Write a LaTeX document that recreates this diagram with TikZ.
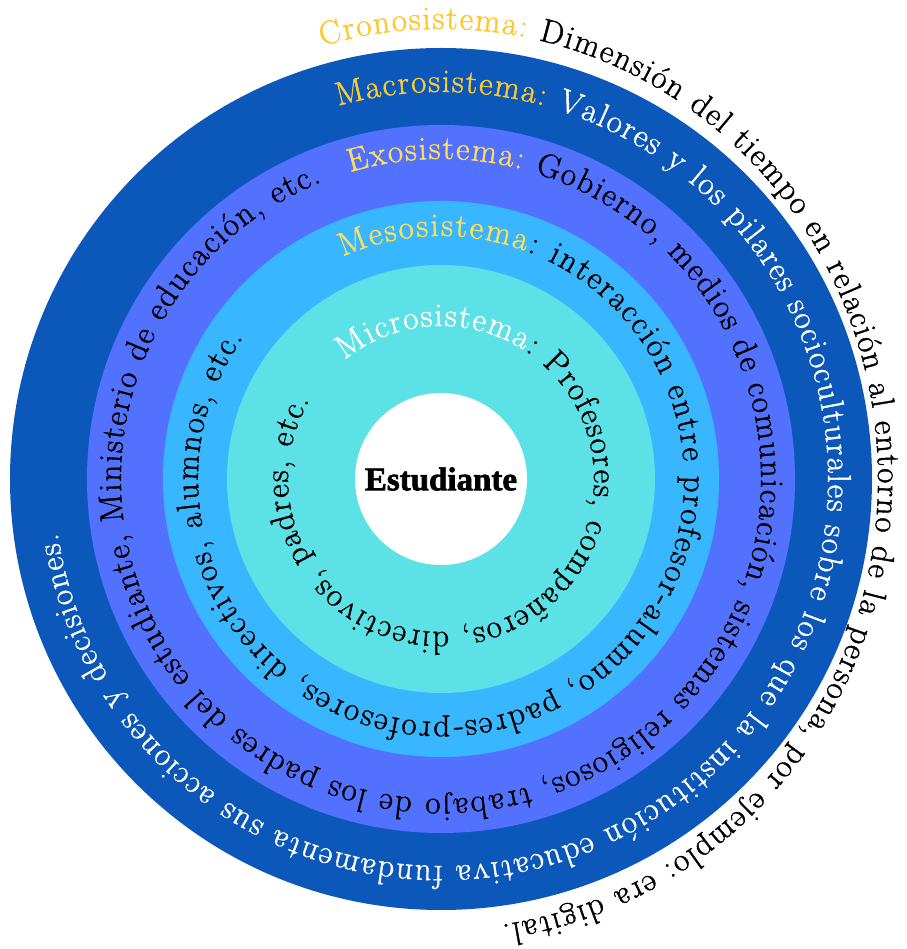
\documentclass[tikz,border=0pt]{standalone}
\usepackage{fontspec}
\usetikzlibrary{decorations.text}
\newfontfamily\titlefont[FakeBold=2]{Liberation Serif}
\newfontfamily\ringfam[FakeBold=1.2]{Latin Modern Roman}
\newcommand\ringtxt{\ringfam\fontsize{33}{40}\selectfont}

\definecolor{ringdark}{HTML}{0B57BA}
\definecolor{ringperi}{HTML}{5271FF}
\definecolor{ringsky}{HTML}{38B6FF}
\definecolor{ringturq}{HTML}{5CE1E6}
\definecolor{golddeep}{HTML}{FFC72E}
\definecolor{goldmid}{HTML}{FFCB30}
\definecolor{goldpale}{HTML}{FFDE59}

\tikzset{
  disc/.style={circle, inner sep=0pt, outer sep=0pt, draw=none},
  ringtext/.style={decorate, decoration={text along path, text align={fit to path}}}
}

\begin{document}
\begin{tikzpicture}[x=1pt, y=1pt]
  % canvas
  \fill[white] (-441,-470) rectangle (465,479);
  \useasboundingbox (-441,-470) rectangle (465,479);

  % concentric systems
  \node[disc, fill=ringdark, minimum size=862] (macro) at (0,0) {};
  \node[disc, fill=ringperi, minimum size=708] (exo) at (0,0) {};
  \node[disc, fill=ringsky, minimum size=556] (meso) at (0,0) {};
  \node[disc, fill=ringturq, minimum size=428] (micro) at (0,0) {};
  \node[disc, fill=white, minimum size=172,
        font={\titlefont\bfseries\fontsize{33}{36}\selectfont}] (student) at (0,0) {Estudiante};

  % Cronosistema, outside the rings (slightly oval path)
  \path[ringtext, decoration={text={|\ringtxt\color{golddeep}|Cronosistema:|\ringtxt\color{black}| Dimensión del tiempo en relación al entorno de la persona, por ejemplo: era digital.}}]
    (105.8:437 and 450) arc[start angle=105.8, end angle=-82, x radius=437, y radius=450];

  % Macrosistema
  \path[ringtext, decoration={text={|\ringtxt\color{goldmid}|Macrosistema:|\ringtxt\color{white}| Valores y los pilares socioculturales sobre los que la institución educativa fundamenta sus acciones y decisiones.}}]
    (105.4:387) arc[start angle=105.4, end angle=-172, radius=387];

  % Exosistema
  \path[ringtext, decoration={text={|\ringtxt\color{goldpale}|Exosistema:|\ringtxt\color{black}| Gobierno, medios de comunicación, sistemas religiosos, trabajo de los padres del estudiante, Ministerio de educación, etc.}}]
    (106.5:320) arc[start angle=106.5, end angle=-248.1, radius=320];

  % Mesosistema
  \path[ringtext, decoration={text={|\ringtxt\color{goldpale}|Mesosistema|\ringtxt\color{black}|: interacción entre profesor-alumno, padres-profesores, directivos, alumnos, etc.}}]
    (113.8:243) arc[start angle=113.8, end angle=-215.6, radius=243];

  % Microsistema
  \path[ringtext, decoration={text={|\ringtxt\color{white}|Microsistema|\ringtxt\color{black}|: Profesores, compañeros, directivos, padres, etc.}}]
    (129:153) arc[start angle=129, end angle=-211, radius=153];
\end{tikzpicture}
\end{document}
